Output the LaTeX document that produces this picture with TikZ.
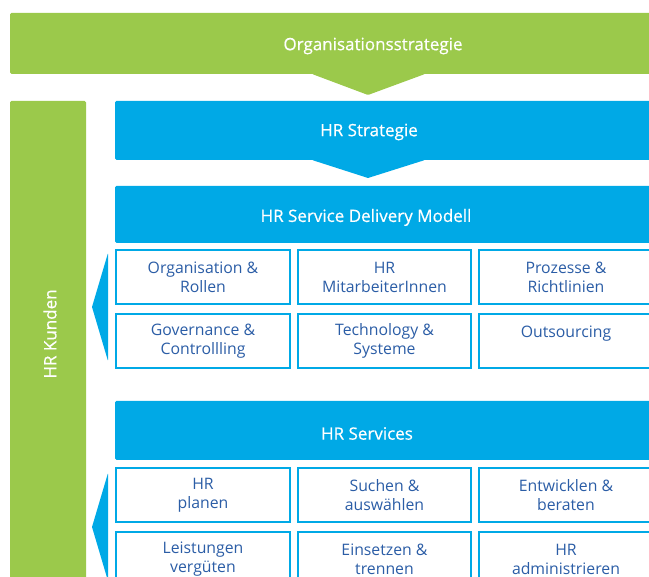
\documentclass[tikz,border=0pt]{standalone}
\usepackage{fontspec}
\setmainfont{Open Sans}
\usetikzlibrary{positioning}
\definecolor{hrgreen}{HTML}{9BC94B}
\definecolor{hrblue}{HTML}{00A9E6}
\definecolor{hrtext}{HTML}{2B5DA6}
\tikzset{
  % plain coloured bars
  greenbar/.style={fill=hrgreen, rounded corners=1.5pt},
  bluebar/.style={fill=hrblue, rounded corners=1.5pt},
  % white titles on the bars
  title/.style={text=white, inner sep=0pt,
    font=\fontsize{17}{20}\selectfont\addfontfeature{FakeBold=0.5}},
  % framed cells of the two grids
  cell/.style={draw=hrblue, line width=2.4pt, fill=white, inner sep=0pt,
    minimum width=173.5pt, minimum height=54.5pt, text=hrtext, align=center,
    font=\fontsize{15.8}{19}\selectfont},
  % arrow heads between the levels
  pointer/.style={rounded corners=0.8pt},
}

\begin{document}
\begin{tikzpicture}[x=1pt, y=-1pt]
  \useasboundingbox (0,0) rectangle (649,577);
  \clip (0,0) rectangle (649,577);

  % strategy level
  \fill[greenbar] (10,13) rectangle (670,74);
  \node[title] (orgstr) at (373,46) {Organisationsstrategie};
  \fill[hrgreen, pointer] (312,74) -- (425,74) -- (368,95) -- cycle;

  % customers
  \fill[greenbar] (10,101) rectangle (86,600);
  \node[title, rotate=90] (kunden) at (50,334) {HR Kunden};

  \fill[bluebar] (115,101) rectangle (670,160);
  \node[title] (hrstr) at (369,132) {HR Strategie};
  \fill[hrblue, pointer] (312,160) -- (425,160) -- (368,178) -- cycle;

  % service delivery model
  \fill[bluebar] (115,186) rectangle (670,243);
  \node[title] (sdm) at (366,217.5) {HR Service Delivery Modell};

  \node[cell] (orga) at (203,277) {Organisation \&\\Rollen};
  \node[cell] (mitarb) at (384.5,277) {HR\\MitarbeiterInnen};
  \node[cell] (proz) at (566,277) {Prozesse \&\\Richtlinien};
  \node[cell] (gov) at (203,341) {Governance \&\\Controllling};
  \node[cell] (tech) at (384.5,341) {Technology \&\\Systeme};
  \node[cell] (outs) at (566,341) {Outsourcing\\\phantom{X}};
  \fill[hrblue, pointer] (108,253) -- (108,361) -- (92,307) -- cycle;

  % services
  \fill[bluebar] (115,401) rectangle (670,460);
  \node[title] (serv) at (367,433.5) {HR Services};

  \node[cell] (planen) at (203,495) {HR\\planen};
  \node[cell] (suchen) at (384.5,495) {Suchen \&\\auswählen};
  \node[cell] (entw) at (566,495) {Entwicklen \&\\beraten};
  \node[cell] (leist) at (203,559) {Leistungen\\vergüten};
  \node[cell] (einsetz) at (384.5,559) {Einsetzen \&\\trennen};
  \node[cell] (admin) at (566,559) {HR\\administrieren};
  \fill[hrblue, pointer] (108,473) -- (108,581) -- (92,527) -- cycle;
\end{tikzpicture}
\end{document}
